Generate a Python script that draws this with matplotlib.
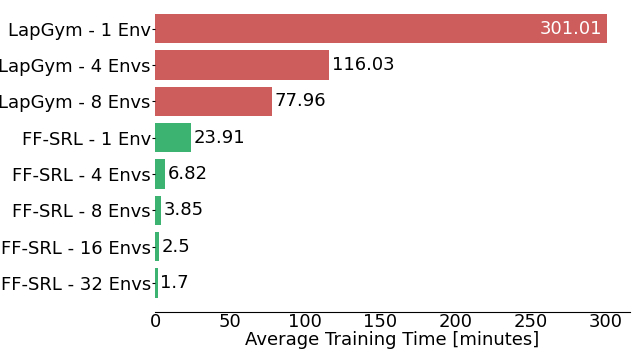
import matplotlib
matplotlib.use("Agg")
import matplotlib.pyplot as plt

# training times per configuration
labels = ["LapGym - 1 Env", "LapGym - 4 Envs", "LapGym - 8 Envs",
          "FF-SRL - 1 Env", "FF-SRL - 4 Envs", "FF-SRL - 8 Envs",
          "FF-SRL - 16 Envs", "FF-SRL - 32 Envs"]
times = [301.01, 116.03, 77.96, 23.91, 6.82, 3.85, 2.5, 1.7]
value_text = ["301.01", "116.03", "77.96", "23.91", "6.82", "3.85", "2.5", "1.7"]
colors = ["indianred"] * 3 + ["mediumseagreen"] * 5

fig = plt.figure(figsize=(6.34, 3.52), dpi=100)
ax = fig.add_axes([0.2445, 0.1145, 0.7492, 0.8855])

y = list(range(len(labels)))
bars = ax.barh(y, times, height=0.8, color=colors)
ax.set_yticks(y)
ax.set_yticklabels(labels, fontsize=13)
ax.invert_yaxis()
ax.set_xlim(0, max(times) * 1.05)

for b, v, t in zip(bars, times, value_text):
    yc = b.get_y() + b.get_height() / 2
    if v > 200:
        ax.annotate(t, (v, yc), xytext=(-4, 0), textcoords="offset points",
                    ha="right", va="center", color="white", fontsize=13)
    else:
        ax.annotate(t, (v, yc), xytext=(2, 0), textcoords="offset points",
                    ha="left", va="center", color="black", fontsize=13)

ax.set_xlabel("Average Training Time [minutes]", fontsize=13, labelpad=0)
ax.tick_params(axis="x", length=0, labelsize=13, pad=1)
ax.tick_params(axis="y", length=2, pad=1)
for s in ["top", "right", "left"]:
    ax.spines[s].set_visible(False)

fig.savefig("out.png", dpi=100)
